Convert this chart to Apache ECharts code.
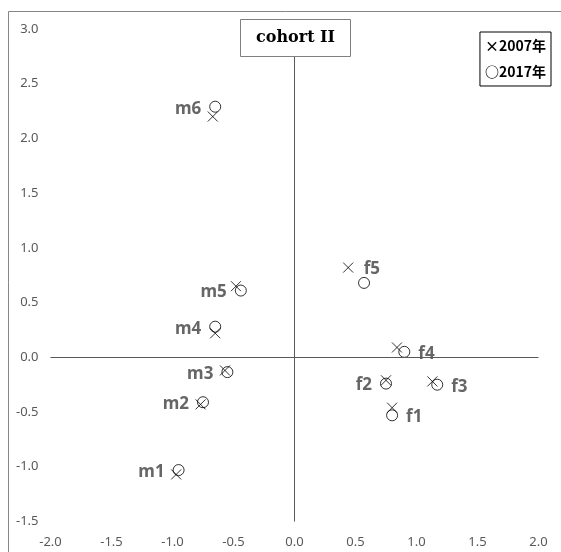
<!DOCTYPE html>
<html>
<head>
<meta charset="utf-8">
<script src="https://cdn.jsdelivr.net/npm/echarts@6/dist/echarts.min.js"></script>
<style>html,body{margin:0;padding:0;background:#fff;}#c{width:561px;height:552px;}</style>
</head>
<body>
<div id="c"></div>
<script>
// ---- data ----
const names = ['m1', 'm2', 'm3', 'm4', 'm5', 'm6', 'f1', 'f2', 'f3', 'f4', 'f5'];
const x2007 = [-0.97, -0.77, -0.57, -0.65, -0.48, -0.67, 0.80, 0.75, 1.13, 0.84, 0.44];
const y2007 = [-1.07, -0.43, -0.12, 0.22, 0.65, 2.20, -0.46, -0.21, -0.22, 0.09, 0.82];
const x2017 = [-0.95, -0.75, -0.55, -0.65, -0.44, -0.65, 0.80, 0.75, 1.17, 0.90, 0.57];
const y2017 = [-1.03, -0.41, -0.135, 0.28, 0.61, 2.29, -0.53, -0.24, -0.25, 0.05, 0.68];
const seriesNames = ['2007年', '2017年'];
const legendGlyphs = ['×', '○'];
const xTickRange = [-2.0, 2.0];
const yTickRange = [-1.5, 3.0];
const tickStep = 0.5;
const chartTitle = 'cohort II';

// ---- styles (label placement) ----
const labelSide = { m1: 'left', m2: 'left', m3: 'left', m4: 'left', m5: 'left', m6: 'left',
  f1: 'right', f2: 'left', f3: 'right', f4: 'right', f5: 'right' };
const labelOnFirst = { f5: true };

const labelFont = { fontFamily: 'Noto Sans', fontWeight: 'bold', fontSize: 17, color: '#404040' };

function buildData(xs, ys, isFirst) {
  return names.map((n, i) => {
    const show = isFirst ? !!labelOnFirst[n] : !labelOnFirst[n];
    return {
      name: n,
      value: [xs[i], ys[i]],
      label: {
        show: show,
        formatter: n,
        position: labelSide[n],
        distance: isFirst ? 10 : 8,
        offset: [0, 2],
        ...labelFont
      }
    };
  });
}

const chart = echarts.init(document.getElementById('c'), null, { renderer: 'canvas' });
const axisLabel = { fontFamily: 'Noto Sans', fontSize: 13, color: '#595959', formatter: v => v.toFixed(1) };

chart.setOption({
  animation: false,
  backgroundColor: '#fff',
  title: {
    text: chartTitle,
    left: 240,
    top: 19,
    padding: [9, 16],
    backgroundColor: '#fff',
    borderColor: '#7f7f7f',
    borderWidth: 1,
    textStyle: { fontFamily: 'DejaVu Serif', fontWeight: 'bold', fontSize: 16, lineHeight: 20, color: '#000' }
  },
  legend: {
    orient: 'vertical',
    right: 10,
    top: 32,
    data: seriesNames,
    icon: 'none',
    itemWidth: 0,
    itemHeight: 14,
    itemGap: 12,
    padding: [7, 5, 7, 0],
    backgroundColor: '#fff',
    borderColor: '#000',
    borderWidth: 1,
    formatter: n => legendGlyphs[seriesNames.indexOf(n)] + n,
    textStyle: { fontFamily: 'Noto Sans CJK JP', fontWeight: 'bold', fontSize: 14, color: '#000' }
  },
  graphic: [{
    type: 'rect',
    shape: { x: 8.5, y: 11.5, width: 700, height: 700 },
    style: { fill: 'none', stroke: '#868686', lineWidth: 1 },
    silent: true,
    z: -10
  }],
  grid: { left: 50.5, right: 22.5, top: 29, bottom: 30.5 },
  xAxis: {
    type: 'value',
    min: xTickRange[0], max: xTickRange[1], interval: tickStep,
    axisLine: { show: false },
    axisTick: { show: false },
    splitLine: { show: false },
    axisLabel: { ...axisLabel, margin: 14 }
  },
  yAxis: {
    type: 'value',
    min: yTickRange[0], max: yTickRange[1], interval: tickStep,
    axisLine: { show: false },
    axisTick: { show: false },
    splitLine: { show: false },
    axisLabel: { ...axisLabel, margin: 12 }
  },
  series: [
    {
      name: seriesNames[0],
      type: 'scatter',
      symbol: 'path://M0,0L10,10M0,10L10,0',
      symbolSize: 10,
      itemStyle: { color: 'transparent', borderColor: '#000', borderWidth: 1 },
      data: buildData(x2007, y2007, true),
      z: 3,
      markLine: {
        silent: true,
        symbol: 'none',
        label: { show: false },
        lineStyle: { color: '#595959', width: 1, type: 'solid' },
        data: [{ xAxis: 0 }, { yAxis: 0 }]
      }
    },
    {
      name: seriesNames[1],
      type: 'scatter',
      symbol: 'circle',
      symbolSize: 11,
      itemStyle: { color: 'transparent', borderColor: '#000', borderWidth: 1 },
      data: buildData(x2017, y2017, false),
      z: 3
    }
  ]
});
</script>
</body>
</html>
